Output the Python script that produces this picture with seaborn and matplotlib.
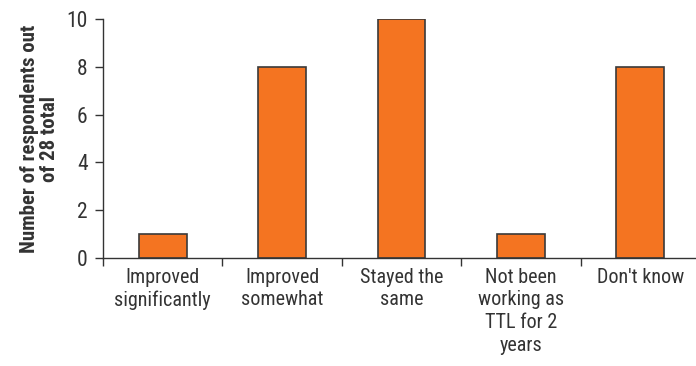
import matplotlib
matplotlib.use("Agg")
import matplotlib.pyplot as plt
from matplotlib import font_manager
import seaborn as sns
import pandas as pd

categories = ["Improved\nsignificantly", "Improved\nsomewhat", "Stayed the\nsame",
              "Not been\nworking as\nTTL for 2\nyears", "Don't know"]
respondents = [1, 8, 10, 1, 8]
y_ticks = [0, 2, 4, 6, 8, 10]
y_label = "Number of respondents out\nof 28 total"

sns.set_theme(style="white")
installed = {f.name for f in font_manager.fontManager.ttflist}
family = [f for f in ["Liberation Sans Narrow", "Roboto Condensed", "Liberation Sans"] if f in installed]
plt.rcParams["font.family"] = family + ["DejaVu Sans"]

df = pd.DataFrame({"category": categories, "count": respondents})

fig = plt.figure(figsize=(6.96, 3.66), dpi=100)
ax = fig.add_axes([103 / 696, 108 / 366, 597 / 696, 239 / 366])

sns.barplot(data=df, x="category", y="count", ax=ax, color="#F47421",
            saturation=1, width=0.4, edgecolor="#3a3a3a", linewidth=1.2)

ax.set_xlim(-0.5, len(categories) - 0.5)
ax.set_ylim(0, 10)
ax.set_yticks(y_ticks)
ax.set_yticklabels([str(v) for v in y_ticks], fontsize=15.5, color="#333333")

# boundary ticks between categories, labels centred under bars
ax.set_xticks([i - 0.5 for i in range(len(categories) + 1)])
ax.set_xticklabels([])
ax.set_xticks(range(len(categories)), minor=True)
ax.set_xticklabels(categories, minor=True, fontsize=14.5, color="#333333", linespacing=1.25)
ax.tick_params(axis="x", which="major", direction="out", length=6, width=1, color="#333333", bottom=True)
ax.tick_params(axis="x", which="minor", length=0, pad=7)
ax.tick_params(axis="y", direction="out", length=6, width=1, color="#333333", left=True, pad=5)

for side in ["top", "right"]:
    ax.spines[side].set_visible(False)
for side in ["left", "bottom"]:
    ax.spines[side].set_color("#333333")
    ax.spines[side].set_linewidth(1)

ax.set_xlabel("")
ax.set_ylabel(y_label, fontsize=15, fontweight="bold", color="#333333", linespacing=1.1, labelpad=5)

fig.savefig("out.png", dpi=100)
